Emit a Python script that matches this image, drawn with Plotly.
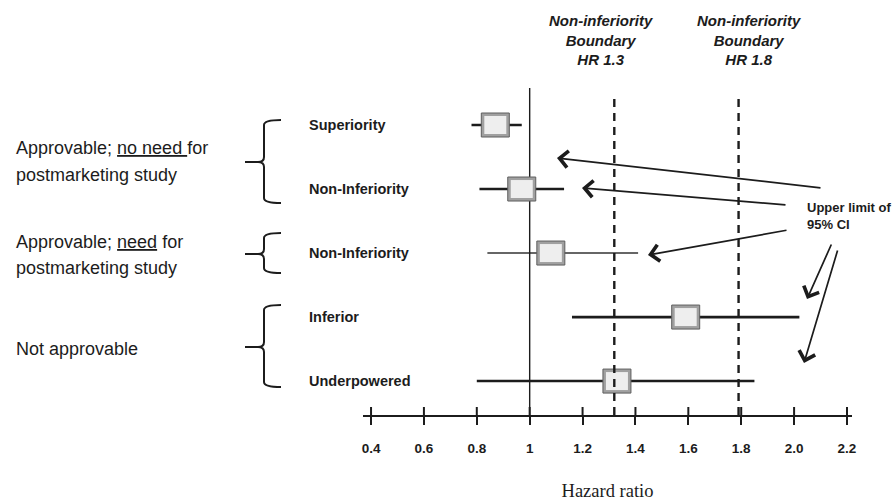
import plotly.graph_objects as go

# ---------------- data ----------------
categories = ["Superiority", "Non-Inferiority", "Non-Inferiority", "Inferior", "Underpowered"]
hr_point = [0.87, 0.97, 1.08, 1.59, 1.33]
ci_lower = [0.78, 0.81, 0.84, 1.16, 0.80]
ci_upper = [0.97, 1.13, 1.41, 2.02, 1.85]
boundary_values = [1.32, 1.79]
boundary_labels = ["Non-inferiority<br>Boundary<br>HR 1.3", "Non-inferiority<br>Boundary<br>HR 1.8"]
tick_values = [0.4, 0.6, 0.8, 1.0, 1.2, 1.4, 1.6, 1.8, 2.0, 2.2]
tick_labels = ["0.4", "0.6", "0.8", "1", "1.2", "1.4", "1.6", "1.8", "2.0", "2.2"]
group_lines = [
    ["Approvable; <u>no need </u>for", "postmarketing study"],
    ["Approvable; <u>need</u> for", "postmarketing study"],
    ["Not approvable"],
]
callout_text = "Upper limit of<br>95% CI"

# ---------------- layout geometry ----------------
W, H = 894, 504
ML, MR, MT, MB = 363, 42, 85, 89
PW = W - ML - MR
PH = H - MT - MB
PBOT = H - MB          # pixel of plot bottom
XR = [0.3696, 2.219]
YR = [4.53, -0.625]
PXU = PW / (XR[1] - XR[0])   # pixels per x unit
PYU = PH / (YR[0] - YR[1])   # pixels per y unit


def PX(px):
    """image pixel x -> paper"""
    return (px - ML) / PW


def PY(py):
    """image pixel y -> paper"""
    return (PBOT - py) / PH


SANS = "Liberation Sans, Arial, sans-serif"
SERIF = "Liberation Serif, Times New Roman, serif"
INK = "#1c1c1c"

fig = go.Figure()

# CI whiskers
widths = [2.6, 2.6, 1.5, 2.8, 2.4]
for i, (lo, hi) in enumerate(zip(ci_lower, ci_upper)):
    fig.add_trace(go.Scatter(x=[lo, hi], y=[i, i], mode="lines",
                             line=dict(color=INK if i != 2 else "#333", width=widths[i]),
                             hoverinfo="skip", showlegend=False))

shapes = []
# reference line HR = 1
shapes.append(dict(type="line", xref="x", yref="paper", x0=1.0, x1=1.0, y0=0, y1=PY(88),
                   line=dict(color=INK, width=1.4), layer="above"))

# boxes
bw = 14 / PXU
bh = 12 / PYU
ins_x = 3 / PXU
ins_y = 3 / PYU
for i, p in enumerate(hr_point):
    shapes.append(dict(type="rect", xref="x", yref="y", x0=p - bw, x1=p + bw, y0=i - bh, y1=i + bh,
                       fillcolor="#a0a0a0", line=dict(color="#5e5e5e", width=1), layer="above"))
    shapes.append(dict(type="rect", xref="x", yref="y", x0=p - bw + ins_x, x1=p + bw - ins_x,
                       y0=i - bh + ins_y, y1=i + bh - ins_y,
                       fillcolor="#eeeeee", line=dict(width=0), layer="above"))

# boundary dashed lines
for b in boundary_values:
    shapes.append(dict(type="line", xref="x", yref="paper", x0=b, x1=b, y0=0, y1=PY(97),
                       line=dict(color=INK, width=2.4, dash="8px,6px"), layer="above"))

# upper halves of the crossing ticks
for t in tick_values:
    shapes.append(dict(type="line", xref="x", yref="paper", x0=t, x1=t, y0=0, y1=8 / PH,
                       line=dict(color=INK, width=2), layer="above"))


# braces
def brace(top, tip, bot, xl=245, xv=264, xr=281):
    c = 5
    pts = [
        f"M{PX(xr)},{PY(top)}",
        f"Q{PX(xv)},{PY(top)} {PX(xv)},{PY(top + c)}",
        f"L{PX(xv)},{PY(tip - c)}",
        f"Q{PX(xv)},{PY(tip)} {PX(xv - 6)},{PY(tip)}",
        f"L{PX(xl)},{PY(tip)}",
        f"M{PX(xv - 6)},{PY(tip)}",
        f"Q{PX(xv)},{PY(tip)} {PX(xv)},{PY(tip + c)}",
        f"L{PX(xv)},{PY(bot - c)}",
        f"Q{PX(xv)},{PY(bot)} {PX(xr)},{PY(bot)}",
    ]
    return dict(type="path", xref="paper", yref="paper", path=" ".join(pts),
                line=dict(color=INK, width=2))


shapes.append(brace(120, 162, 203))
shapes.append(brace(233, 254, 273))
shapes.append(brace(305, 347, 387))

annotations = []
# row labels
for i, c in enumerate(categories):
    annotations.append(dict(xref="paper", yref="y", x=PX(307), y=i, xanchor="left", yanchor="middle",
                            text=f"<b>{c}</b>", showarrow=False,
                            font=dict(family=SANS, size=14.5, color=INK)))

# group labels
group_centers = [[148, 175], [242, 268], [349]]
for lines, ys in zip(group_lines, group_centers):
    for t, yc in zip(lines, ys):
        annotations.append(dict(xref="paper", yref="paper", x=PX(14), y=PY(yc), xanchor="left",
                                yanchor="middle", text=t, showarrow=False,
                                font=dict(family=SANS, size=18, color=INK)))

# boundary labels
shifts = [-13, 10]
for b, lab, s in zip(boundary_values, boundary_labels, shifts):
    annotations.append(dict(xref="x", yref="paper", x=b, y=PY(40), xshift=s, xanchor="center",
                            yanchor="middle", text=f"<b><i>{lab}</i></b>", showarrow=False,
                            align="center", font=dict(family=SANS, size=15, color=INK)))

# callout text
annotations.append(dict(xref="paper", yref="paper", x=PX(805), y=PY(216), xanchor="left",
                        yanchor="middle", text=f"<b>{callout_text}</b>", showarrow=False,
                        align="left", font=dict(family=SANS, size=13, color=INK)))

# arrows: (tail, tip) in image pixels
arrows = [((822, 188), (557, 158)),
          ((787, 205), (582, 188)),
          ((788, 230), (648, 255)),
          ((832, 243), (807, 299)),
          ((838, 249), (804, 363))]
for (tx, ty), (hx, hy) in arrows:
    annotations.append(dict(xref="paper", yref="paper", x=PX(hx), y=PY(hy), ax=tx - hx, ay=ty - hy,
                            text="", showarrow=True, arrowhead=4, arrowsize=1.9, arrowwidth=1.7,
                            arrowcolor=INK, standoff=0, startstandoff=0))

fig.update_layout(
    width=W, height=H,
    margin=dict(l=ML, r=MR, t=MT, b=MB, pad=0, autoexpand=False),
    paper_bgcolor="white", plot_bgcolor="white",
    showlegend=False,
    shapes=shapes,
    annotations=annotations,
    xaxis=dict(range=XR, tickmode="array", tickvals=tick_values,
               ticktext=[f"<b>{t}</b>" for t in tick_labels],
               ticks="outside", ticklen=8, tickwidth=2, tickcolor=INK,
               showline=True, linewidth=2, linecolor=INK, showgrid=False, zeroline=False,
               automargin=False, ticklabelstandoff=12,
               tickfont=dict(family=SANS, size=13.5, color=INK),
               title=dict(text="Hazard ratio", font=dict(family=SERIF, size=18.5, color=INK), standoff=29)),
    yaxis=dict(range=YR, visible=False, showgrid=False, zeroline=False),
)

fig.write_html("out.html", config={"displayModeBar": False},
               post_script="document.body.style.margin='0px';")
